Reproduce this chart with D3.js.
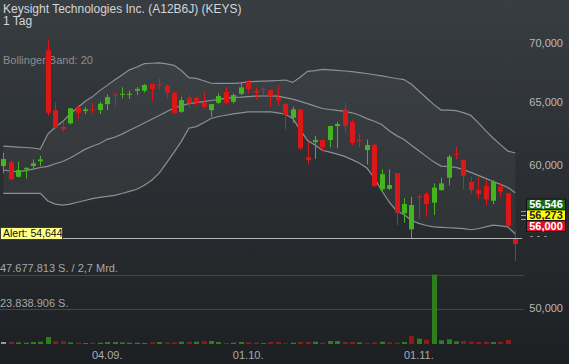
<!DOCTYPE html>
<html>
<head>
<meta charset="utf-8">
<script src="https://cdn.jsdelivr.net/npm/d3@7"></script>
<style>
  body { margin: 0; background: #1f2225; }
  svg { display: block; font-family: "Liberation Sans", Arial, sans-serif; }
</style>
</head>
<body>
<div id="chart-area"></div>
<script>
// daily candles, Xetra trading days
var dates = [
  "15.08.", "16.08.", "19.08.", "20.08.", "21.08.", "22.08.", "23.08.", "26.08.", "27.08.", "28.08.",
  "29.08.", "30.08.", "02.09.", "03.09.", "04.09.", "05.09.", "06.09.", "09.09.", "10.09.", "11.09.",
  "12.09.", "13.09.", "16.09.", "17.09.", "18.09.", "19.09.", "20.09.", "23.09.", "24.09.", "25.09.",
  "26.09.", "27.09.", "30.09.", "01.10.", "02.10.", "03.10.", "04.10.", "07.10.", "08.10.", "09.10.",
  "10.10.", "11.10.", "14.10.", "15.10.", "16.10.", "17.10.", "18.10.", "21.10.", "22.10.", "23.10.",
  "24.10.", "25.10.", "28.10.", "29.10.", "30.10.", "31.10.", "01.11.", "04.11.", "05.11.", "06.11.",
  "07.11.", "08.11.", "11.11.", "12.11.", "13.11.", "14.11.", "15.11.", "18.11.", "19.11.", "20.11."
];

var opens = [
  59.90, 60.20, 59.09, 59.65, 59.90, 60.26, 69.40, 64.31, 62.96, 63.24,
  64.50, 64.23, 64.39, 64.31, 64.80, 65.61, 65.57, 65.57, 65.91, 65.91,
  66.47, 66.44, 66.33, 65.74, 64.17, 65.32, 65.32, 64.91, 64.31, 64.91,
  65.80, 64.99, 65.66, 66.64, 65.88, 66.07, 65.96, 65.36, 64.83, 63.69,
  64.37, 60.57, 61.75, 61.91, 61.91, 63.02, 64.37, 63.34, 61.91, 61.13,
  61.52, 58.16, 58.20, 59.37, 56.41, 55.28, 57.64, 57.81, 57.18, 58.10,
  59.02, 60.84, 60.36, 58.70, 58.10, 58.40, 57.32, 58.35, 57.86, 54.67
];
var highs = [
  60.92, 60.36, 60.23, 59.80, 60.41, 60.67, 70.29, 64.94, 63.37, 64.50,
  64.72, 64.58, 64.86, 64.99, 65.61, 65.74, 66.19, 65.94, 66.22, 66.47,
  66.50, 66.95, 66.47, 65.80, 65.41, 65.61, 65.41, 65.77, 64.82, 65.69,
  66.24, 65.69, 66.66, 66.87, 66.19, 66.19, 65.98, 66.39, 64.85, 64.58,
  64.39, 61.78, 62.23, 61.93, 63.04, 63.37, 64.94, 63.56, 62.44, 61.96,
  61.65, 59.65, 59.65, 59.38, 57.50, 57.61, 57.74, 57.98, 58.60, 59.02,
  60.74, 61.39, 60.38, 59.09, 59.05, 58.84, 58.84, 58.65, 57.90, 55.18
];
var lows = [
  59.35, 58.85, 59.05, 58.97, 59.73, 59.90, 63.83, 62.76, 62.57, 63.16,
  63.56, 63.99, 64.04, 63.99, 64.31, 64.58, 65.27, 65.22, 65.55, 65.77,
  65.07, 66.02, 65.27, 63.99, 64.09, 64.45, 64.72, 64.45, 63.77, 64.78,
  64.78, 64.86, 65.55, 65.69, 65.22, 65.55, 64.58, 64.64, 62.76, 63.29,
  61.13, 60.05, 60.44, 61.00, 61.34, 61.26, 62.49, 61.52, 61.34, 60.02,
  58.30, 58.05, 58.10, 55.58, 55.74, 54.65, 55.99, 56.17, 56.29, 58.05,
  58.45, 60.41, 58.16, 57.86, 57.42, 56.99, 57.08, 57.61, 55.46, 53.10
];
var closes = [
  60.44, 58.90, 59.60, 59.77, 60.11, 60.41, 64.09, 62.88, 62.78, 64.45,
  64.09, 64.37, 64.29, 64.83, 65.38, 65.52, 65.66, 65.66, 66.07, 66.39,
  66.07, 66.36, 65.74, 64.09, 65.13, 64.86, 64.91, 64.58, 64.80, 65.47,
  64.91, 65.55, 66.19, 66.07, 65.74, 65.99, 65.49, 65.13, 63.91, 64.37,
  61.26, 60.36, 61.91, 61.34, 63.02, 63.18, 63.04, 61.70, 61.83, 61.52,
  58.40, 59.29, 58.47, 56.46, 57.08, 57.01, 57.57, 57.08, 58.28, 58.60,
  60.61, 60.77, 59.17, 58.10, 57.81, 57.42, 58.72, 57.98, 55.53, 54.26
];

// shares traded (the running day has no volume yet)
var volumes = [
  1370000, 1600000, 1150000, 900000, 1370000, 1600000, 4800000, 1850000, 1850000, 1150000,
  900000, 690000, 900000, 900000, 1370000, 1370000, 1150000, 900000, 900000, 690000,
  1150000, 1370000, 1150000, 1150000, 1600000, 1600000, 1600000, 1850000, 2060000, 1370000,
  690000, 900000, 1370000, 1150000, 900000, 690000, 1370000, 1370000, 480000, 900000,
  1370000, 1370000, 1600000, 900000, 2060000, 2060000, 1370000, 1370000, 1150000, 690000,
  1150000, 1600000, 1150000, 900000, 1370000, 5500000, 3650000, 2950000, 47677813, 2540000,
  3230000, 1850000, 2060000, 1600000, 1370000, 1600000, 1370000, 1600000, 2750000, null
];

// Bollinger band (20)
var bbUpper = [
  61.44, 61.40, 61.36, 61.33, 61.29, 61.21, 62.38, 62.94, 63.38, 63.99,
  64.50, 65.01, 65.40, 65.92, 66.36, 66.81, 67.23, 67.68, 67.92, 68.22,
  68.25, 68.28, 68.20, 68.07, 67.62, 67.02, 66.95, 66.75, 66.54, 66.53,
  66.53, 66.53, 66.57, 66.66, 66.69, 66.72, 66.74, 66.77, 66.81, 66.61,
  67.04, 67.55, 67.62, 67.72, 67.68, 67.64, 67.58, 67.52, 67.45, 67.37,
  67.26, 67.16, 67.05, 66.94, 66.85, 66.45, 65.89, 65.33, 64.78, 64.31,
  64.30, 64.26, 64.10, 63.88, 63.30, 62.65, 62.07, 61.55, 61.05, 60.90
];
var bbMiddle = [
  59.60, 59.52, 59.47, 59.56, 59.67, 59.79, 59.88, 60.08, 60.25, 60.51,
  60.84, 61.18, 61.43, 61.64, 61.97, 62.13, 62.38, 62.68, 62.97, 63.27,
  63.57, 63.87, 64.17, 64.48, 64.68, 64.84, 64.92, 65.01, 65.10, 65.19,
  65.28, 65.36, 65.38, 65.42, 65.46, 65.47, 65.47, 65.46, 65.33, 65.21,
  65.03, 64.84, 64.64, 64.44, 64.36, 64.29, 64.20, 64.09, 63.89, 63.62,
  63.41, 63.14, 62.65, 62.26, 61.96, 61.50, 61.07, 60.64, 60.22, 59.90,
  59.86, 59.80, 59.63, 59.42, 59.20, 58.97, 58.74, 58.52, 58.29, 57.91
];
var bbLower = [
  57.86, 57.86, 57.86, 57.86, 57.86, 57.86, 57.30, 57.08, 57.01, 57.07,
  57.21, 57.34, 57.48, 57.56, 57.64, 57.71, 57.85, 58.01, 58.16, 58.46,
  58.83, 59.37, 60.15, 60.95, 61.81, 62.85, 62.98, 63.29, 63.63, 63.79,
  63.89, 64.00, 64.09, 64.16, 64.17, 64.17, 64.17, 64.09, 63.97, 63.63,
  62.74, 61.87, 61.53, 61.11, 60.97, 60.81, 60.64, 60.39, 60.12, 59.75,
  59.00, 58.05, 57.23, 56.58, 56.33, 55.90, 55.70, 55.55, 55.45, 55.42,
  55.39, 55.36, 55.33, 55.25, 55.32, 55.45, 55.57, 55.52, 55.44, 54.95
];

var priceTicks = [50, 60, 65, 70];
var dateTicks = ["04.09.", "01.10.", "01.11."];
var alertLevel = 54.644;
var quotes = [56.546, 56.273, 56.000];
var quoteColors = ["#1c6a1c", "#ffff00", "#e0102a"];
var quoteText = ["#ffffff", "#222222", "#ffffff"];
var volumeMax = 47677813;
var turnoverMrd = 2.7;

var de = d3.formatLocale({ decimal: ",", thousands: ".", grouping: [3], currency: ["", " €"] });
var fPrice = de.format(",.3f");
var fVol = de.format(",d");
var fMrd = de.format(".1f");

var W = 569, H = 364;
var svg = d3.select("#chart-area")
  .append("svg")
  .attr("width", W)
  .attr("height", H);

var defs = svg.append("defs");
var grad = defs.append("linearGradient")
  .attr("id", "bg")
  .attr("x1", 0).attr("y1", 0).attr("x2", 0).attr("y2", 1);
grad.append("stop").attr("offset", "0%").attr("stop-color", "#383d41");
grad.append("stop").attr("offset", "100%").attr("stop-color", "#1d2023");

svg.append("rect")
  .attr("width", W)
  .attr("height", H)
  .attr("fill", "url(#bg)");

var rows = dates.map((d, i) => ({
  date: d, o: opens[i], h: highs[i], l: lows[i], c: closes[i],
  v: volumes[i], up: bbUpper[i], mid: bbMiddle[i], lo: bbLower[i],
  prev: i > 0 ? closes[i - 1] : null
}));

// scales
var x = d3.scalePoint()
  .domain(dates)
  .range([3.3, 515.3]);

var y = d3.scaleLog()
  .domain([50, 70])
  .range([308.4, 43.3]);

var yVol = d3.scaleLinear()
  .domain([0, volumeMax])
  .range([344, 274.6]);

// volume reference lines
[volumeMax, volumeMax / 2].forEach(v => {
  svg.append("line")
    .attr("x1", 0).attr("x2", 524)
    .attr("y1", Math.round(yVol(v)) + 0.5)
    .attr("y2", Math.round(yVol(v)) + 0.5)
    .attr("stroke", "#41464b")
    .attr("stroke-width", 1);
});
svg.append("text")
  .attr("x", 0).attr("y", yVol(volumeMax) - 3)
  .attr("font-size", 11).attr("fill", "#a4a7aa")
  .text(fVol(volumeMax) + " S. / " + fMrd(turnoverMrd) + " Mrd.");
svg.append("text")
  .attr("x", 0).attr("y", yVol(volumeMax / 2) - 2)
  .attr("font-size", 11).attr("fill", "#a4a7aa")
  .text(fVol(Math.floor(volumeMax / 2)) + " S.");

// volume bars
svg.append("g").selectAll("rect")
  .data(rows.filter(d => d.v != null))
  .enter()
  .append("rect")
  .attr("x", d => Math.round(x(d.date)) - 2)
  .attr("y", d => yVol(d.v))
  .attr("width", 5)
  .attr("height", d => 344 - yVol(d.v))
  .attr("fill", d => d.prev == null ? "#9a9a9a" : (d.c >= d.prev ? "#2f7d1b" : "#8e1a1a"));

// Bollinger band
var band = d3.area()
  .x(d => x(d.date))
  .y0(d => y(d.lo))
  .y1(d => y(d.up));
svg.append("path")
  .datum(rows)
  .attr("d", band)
  .attr("fill", "#ffffff")
  .attr("fill-opacity", 0.045);

["up", "mid", "lo"].forEach(k => {
  svg.append("path")
    .datum(rows)
    .attr("d", d3.line().x(d => x(d.date)).y(d => y(d[k])))
    .attr("fill", "none")
    .attr("stroke", "#8c9093")
    .attr("stroke-width", 1.2);
});

svg.append("text")
  .attr("x", 3).attr("y", 64)
  .attr("font-size", 11).attr("fill", "#8b8e91")
  .text("Bollinger Band: 20");

// candles
var candle = svg.append("g").selectAll("g")
  .data(rows)
  .enter()
  .append("g");

candle.append("line")
  .attr("x1", d => Math.round(x(d.date)) + 0.5)
  .attr("x2", d => Math.round(x(d.date)) + 0.5)
  .attr("y1", d => y(d.h))
  .attr("y2", d => y(d.l))
  .attr("stroke", d => d.c >= d.o ? "#45b51f" : "#dc1717")
  .attr("stroke-width", 1);

candle.append("rect")
  .attr("x", d => Math.round(x(d.date)) - 2)
  .attr("y", d => y(Math.max(d.o, d.c)))
  .attr("width", 5)
  .attr("height", d => Math.max(1, y(Math.min(d.o, d.c)) - y(Math.max(d.o, d.c))))
  .attr("fill", d => d.c >= d.o ? "#45b51f" : "#dc1717");

// alert line
var ya = Math.round(y(alertLevel)) + 0.5;
svg.append("line")
  .attr("x1", 0).attr("x2", 522)
  .attr("y1", ya).attr("y2", ya)
  .attr("stroke", "#b4b6b8")
  .attr("stroke-width", 1);
svg.append("line")
  .attr("x1", 530).attr("x2", 550)
  .attr("y1", ya - 2).attr("y2", ya - 2)
  .attr("stroke", "#8a8d90")
  .attr("stroke-dasharray", "3,4");
svg.append("rect")
  .attr("x", 0.5).attr("y", ya - 11)
  .attr("width", 62).attr("height", 12)
  .attr("fill", "#ffff88")
  .attr("stroke", "#3a3a3a");
svg.append("text")
  .attr("x", 3).attr("y", ya - 1.5)
  .attr("font-size", 10.5).attr("fill", "#111")
  .text("Alert: " + fPrice(alertLevel));

// right price axis
svg.append("g").selectAll("text")
  .data(priceTicks)
  .enter()
  .append("text")
  .attr("x", 563)
  .attr("y", d => y(d) + 4)
  .attr("text-anchor", "end")
  .attr("font-size", 11)
  .attr("fill", "#b8babc")
  .text(d => fPrice(d));

// quote boxes
var qMid = y(quotes[1]);
var qH = 10.8;
quotes.forEach((q, i) => {
  var cy = qMid + (i - 1) * qH;
  svg.append("line")
    .attr("x1", 521).attr("x2", 526)
    .attr("y1", Math.round(y(q)) + 0.5).attr("y2", Math.round(y(q)) + 0.5)
    .attr("stroke", "#9a9da0");
  svg.append("rect")
    .attr("x", 526.5).attr("y", cy - qH / 2)
    .attr("width", 39).attr("height", qH)
    .attr("fill", quoteColors[i])
    .attr("stroke", "#111")
    .attr("stroke-width", 1);
  svg.append("text")
    .attr("x", 546).attr("y", cy + 4)
    .attr("text-anchor", "middle")
    .attr("font-size", 11)
    .attr("font-weight", "bold")
    .attr("fill", quoteText[i])
    .text(fPrice(q));
});

// date axis
svg.append("g").selectAll("text")
  .data(dateTicks)
  .enter()
  .append("text")
  .attr("x", d => x(d))
  .attr("y", 359)
  .attr("text-anchor", "middle")
  .attr("font-size", 11)
  .attr("fill", "#a9abad")
  .text(d => d);

// title
svg.append("text")
  .attr("x", 3).attr("y", 12.5)
  .attr("font-size", 12).attr("fill", "#d4d6d8")
  .text("Keysight Technologies Inc. (A12B6J) (KEYS)");
svg.append("text")
  .attr("x", 3).attr("y", 25)
  .attr("font-size", 12).attr("fill", "#d4d6d8")
  .text("1 Tag");
</script>
</body>
</html>
